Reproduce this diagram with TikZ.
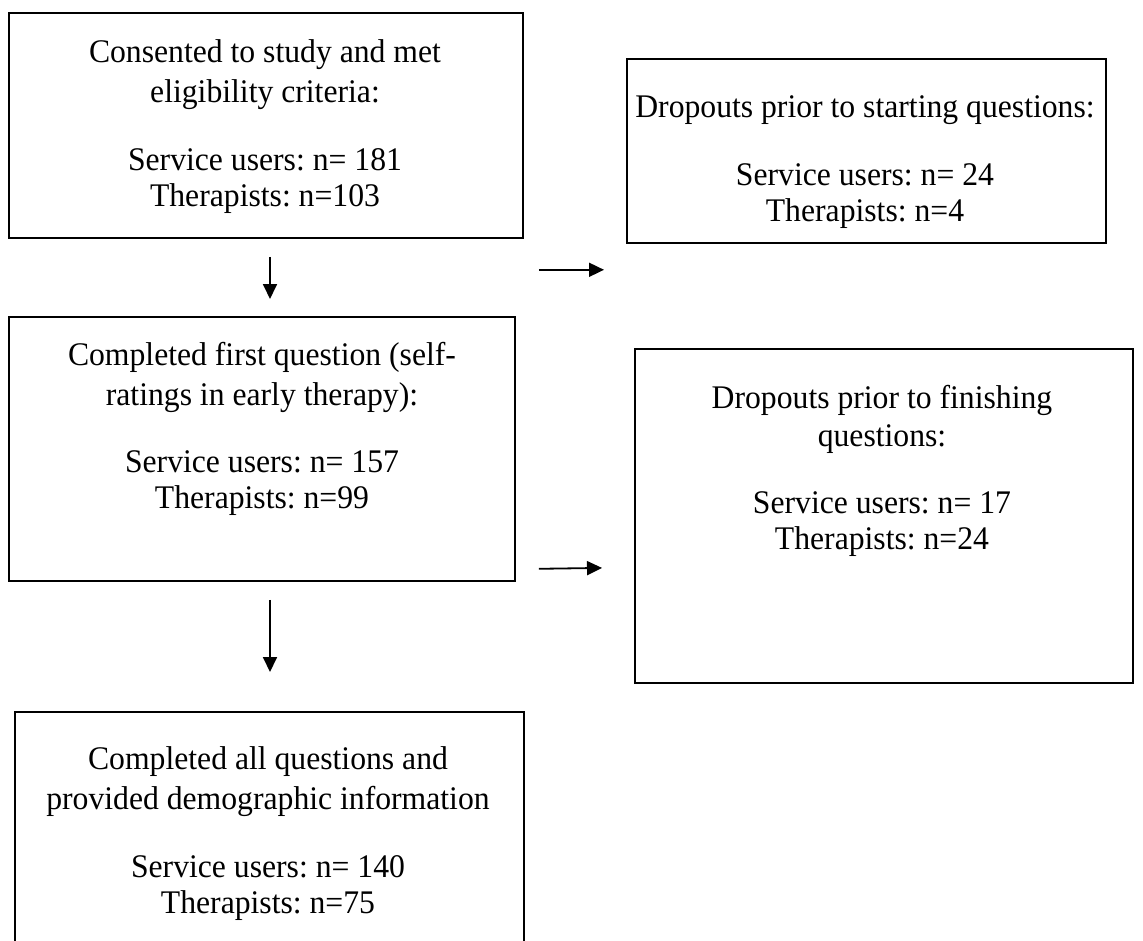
\documentclass[tikz,border=0pt]{standalone}
\usepackage{fontspec}
\setmainfont{Liberation Serif}[FakeStretch=0.96]
\usetikzlibrary{arrows.meta,calc}
\begin{document}
\frenchspacing
\begin{tikzpicture}[x=1pt,y=-1pt,
  box/.style={draw=black,line width=1.8pt,rectangle,inner sep=0pt,anchor=north west},
  txt/.style={align=center,font=\fontsize{33}{36}\selectfont,inner sep=0pt},
  arr/.style={line width=1.8pt,-{Triangle[length=15pt,width=14pt]}}]
\clip (0,0) rectangle (1143,940);
\fill[white] (0,0) rectangle (1143,940);
% boxes
\node[box,minimum width=514pt,minimum height=225pt] (b1) at (8,12) {};
\node[box,minimum width=479pt,minimum height=184pt] (b2) at (626,58) {};
\node[box,minimum width=506pt,minimum height=264pt] (b3) at (8,316) {};
\node[box,minimum width=498pt,minimum height=334pt] (b4) at (634,348) {};
\node[box,minimum width=509pt,minimum height=250pt] (b5) at (14,711) {};
% texts
\node[txt] (t1) at (265,127) {Consented to study and met\\[4pt]eligibility criteria:\\[32pt]Service users: n= 181\\Therapists: n=103};
\node[txt] (t2) at (865,162) {Dropouts prior to starting questions:\\[32pt]Service users: n= 24\\Therapists: n=4};
\node[txt] (t3) at (262,429) {Completed first question (self-\\[4pt]ratings in early therapy):\\[31pt]Service users: n= 157\\Therapists: n=99};
\node[txt] (t4) at (882,471) {Dropouts prior to finishing\\[2pt]questions:\\[31pt]Service users: n= 17\\Therapists: n=24};
\node[txt] (t5) at (268,834) {Completed all questions and\\[4pt]provided demographic information\\[32pt]Service users: n= 140\\Therapists: n=75};
% connector end points
\coordinate (h1s) at ($(b1.south east)+(15,31)$);
\coordinate (h1e) at ($(b2.south west)+(-22,26)$);
\coordinate (v1s) at ($(b1.south west)+(262,18)$);
\coordinate (v1e) at ($(b3.north west)+(262,-17)$);
\coordinate (h2s) at ($(b3.south east)+(23,-13)$);
\coordinate (h2e) at ($(b4.west)+(-32,52)$);
\coordinate (v2s) at ($(b3.south west)+(262,18)$);
\coordinate (v2e) at ($(b5.north west)+(256,-39)$);
\draw[arr] (h1s) -- (h1e);
\draw[arr] (v1s) -- (v1e);
\draw[arr] (h2s) -- (h2e);
\draw[arr] (v2s) -- (v2e);
\end{tikzpicture}
\end{document}
